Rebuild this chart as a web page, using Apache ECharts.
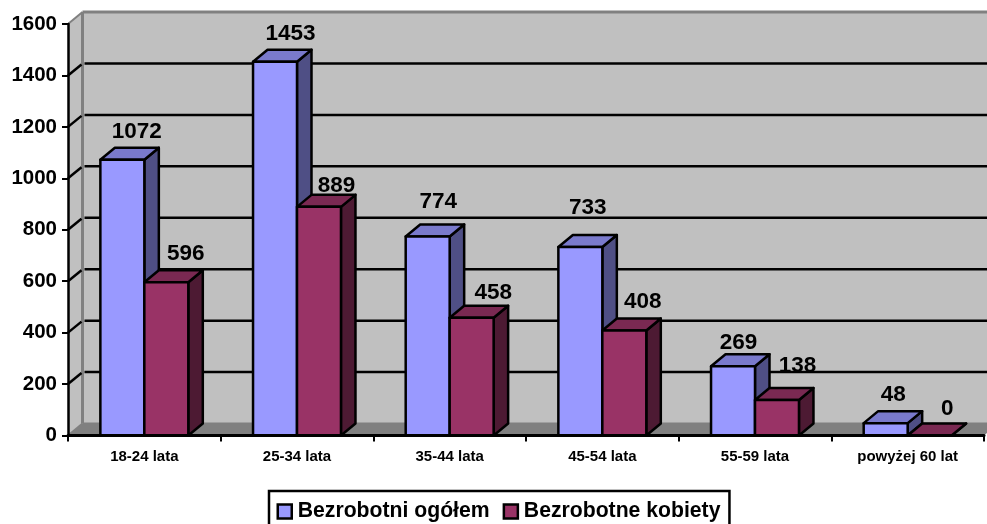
<!DOCTYPE html>
<html><head><meta charset="utf-8">
<style>html,body{margin:0;padding:0;background:#fff}#c{width:987px;height:524px}</style>
<script src="https://cdn.jsdelivr.net/npm/echarts@6/dist/echarts.min.js"></script>
</head><body><div id="c"></div>
<script>
const categories = ['18-24 lata','25-34 lata','35-44 lata','45-54 lata','55-59 lata','powyżej 60 lat'];
const ogolem = [1072,1453,774,733,269,48];
const kobiety = [596,889,458,408,138,0];
const yTicks = [0,200,400,600,800,1000,1200,1400,1600];
const seriesNames = ['Bezrobotni ogółem','Bezrobotne kobiety'];

// label nudges [dx, dy] from the default spot above each bar (hand-placed in the source chart)
const nudgeA = [[0,0],[1,0],[-4,-7],[-7,-11],[-9,4],[-7,0]];
const nudgeB = [[5,0],[3,7],[7,3],[4,-1],[6,-6],[3,1]];

const FONT = '"Liberation Sans", Arial, sans-serif';
const DX = 14.5, DY = 12, BAR = 0.288;
const palette = [
  {front:'#9999FF', top:'#7A7ACC', side:'#4F4F85'},
  {front:'#993366', top:'#7A2952', side:'#4D1A33'}
];

function wallItem(params, api){
  const v = api.value(1);
  const cs = params.coordSys;
  const y = api.coord([0, v])[1];
  const x0 = cs.x, x1 = cs.x + cs.width;
  const kids = [];
  if (v === 0) {
    const top = api.coord([0, yTicks[yTicks.length-1]])[1];
    kids.push({type:'rect', shape:{x:x0+DX,y:top-DY,width:x1-x0,height:y-top}, style:{fill:'#C0C0C0'}});
    kids.push({type:'polygon', shape:{points:[[x0,top],[x0+DX,top-DY],[x0+DX,y-DY],[x0,y]]}, style:{fill:'#C0C0C0'}});
    kids.push({type:'polygon', shape:{points:[[x0,y],[x0+DX,y-DY],[x1+DX,y-DY],[x1,y]]}, style:{fill:'#808080'}});
    kids.push({type:'line', shape:{x1:x0+DX,y1:top-DY,x2:x0+DX,y2:y-DY}, style:{stroke:'#808080',lineWidth:3}});
    kids.push({type:'line', shape:{x1:x0+DX,y1:top-DY,x2:x1+DX,y2:top-DY}, style:{stroke:'#808080',lineWidth:3}});
    kids.push({type:'line', shape:{x1:x0,y1:top,x2:x0+DX,y2:top-DY}, style:{stroke:'#808080',lineWidth:2}});
    kids.push({type:'line', shape:{x1:x0,y1:y,x2:x0+DX,y2:y-DY}, style:{stroke:'#808080',lineWidth:2}});
    kids.push({type:'line', shape:{x1:x0+DX,y1:y-DY,x2:x1+DX,y2:y-DY}, style:{stroke:'#808080',lineWidth:2}});
  } else if (v < yTicks[yTicks.length-1]) {
    kids.push({type:'line', shape:{x1:x0,y1:y,x2:x0+DX-1,y2:y-DY+1}, style:{stroke:'#000',lineWidth:2.5}});
    kids.push({type:'line', shape:{x1:x0+DX+2,y1:y-DY,x2:x1+DX,y2:y-DY}, style:{stroke:'#000',lineWidth:2.5}});
  }
  return {type:'group', children:kids};
}

function barRender(si, nudges){
  return function(params, api){
    const i = api.value(0), v = api.value(1);
    const base = api.coord([i,0]), tip = api.coord([i,v]);
    const w = api.size([1,0])[0]*BAR;
    const xl = base[0] + (si===0 ? -w : 0), xr = xl + w;
    const yb = base[1], yt = tip[1];
    const c = palette[si];
    const line = {stroke:'#000', lineWidth:2.5, lineJoin:'round'};
    const n = nudges[i] || [0,0];
    const kids = [
      {type:'polygon', shape:{points:[[xr,yb],[xr+DX,yb-DY],[xr+DX,yt-DY],[xr,yt]]}, style:{fill:c.side, ...line}},
      {type:'polygon', shape:{points:[[xl,yt],[xl+DX,yt-DY],[xr+DX,yt-DY],[xr,yt]]}, style:{fill:c.top, ...line}},
      {type:'rect', shape:{x:xl,y:yt,width:w,height:yb-yt}, style:{fill:c.front, ...line}},
      {type:'text', z2:50, style:{text:String(v), x:(xl+xr)/2+DX+n[0], y:yt-28+n[1], fill:'#000', align:'center', verticalAlign:'middle', font:'bold 22.5px '+FONT}}
    ];
    return {type:'group', children:kids};
  };
}

const chart = echarts.init(document.getElementById('c'), null, {renderer:'canvas'});
chart.setOption({
  animation:false,
  backgroundColor:'#fff',
  grid:{left:68, right:3, top:24, bottom:88.5, containLabel:false},
  xAxis:{
    type:'category', data:categories, z:10,
    axisLine:{lineStyle:{color:'#000',width:3}},
    axisTick:{show:true,length:6,alignWithLabel:false,lineStyle:{color:'#000',width:2}},
    axisLabel:{color:'#000',fontFamily:FONT,fontWeight:'bold',fontSize:15,margin:14,interval:0},
    splitLine:{show:false}
  },
  yAxis:{
    type:'value', min:0, max:1600, interval:200, z:10,
    axisLine:{show:true,lineStyle:{color:'#000',width:2.5}},
    axisTick:{show:true,length:6,lineStyle:{color:'#000',width:2}},
    axisLabel:{color:'#000',fontFamily:FONT,fontWeight:'bold',fontSize:20.5,margin:11,formatter:v=>String(v)},
    splitLine:{show:false}
  },
  legend:{
    left:269, top:491, orient:'horizontal',
    data:seriesNames,
    selectedMode:false,
    icon:'rect', itemWidth:14, itemHeight:14, itemGap:13,
    padding:[10,9,18,7.5],
    borderColor:'#000', borderWidth:2.5, backgroundColor:'#fff',
    textStyle:{color:'#000',fontFamily:FONT,fontWeight:'bold',fontSize:21.2,padding:[0,0,0,1]},
    itemStyle:{borderColor:'#000',borderWidth:2.5}
  },
  series:[
    {name:'walls', type:'custom', z:1, silent:true, renderItem:wallItem, encode:{x:0,y:1},
     data:yTicks.map(t=>[0,t])},
    {name:seriesNames[0], type:'custom', z:2, renderItem:barRender(0,nudgeA), encode:{x:0,y:1},
     itemStyle:{color:palette[0].front}, data:ogolem.map((v,i)=>[i,v])},
    {name:seriesNames[1], type:'custom', z:3, renderItem:barRender(1,nudgeB), encode:{x:0,y:1},
     itemStyle:{color:palette[1].front}, data:kobiety.map((v,i)=>[i,v])}
  ]
});
</script></body></html>
